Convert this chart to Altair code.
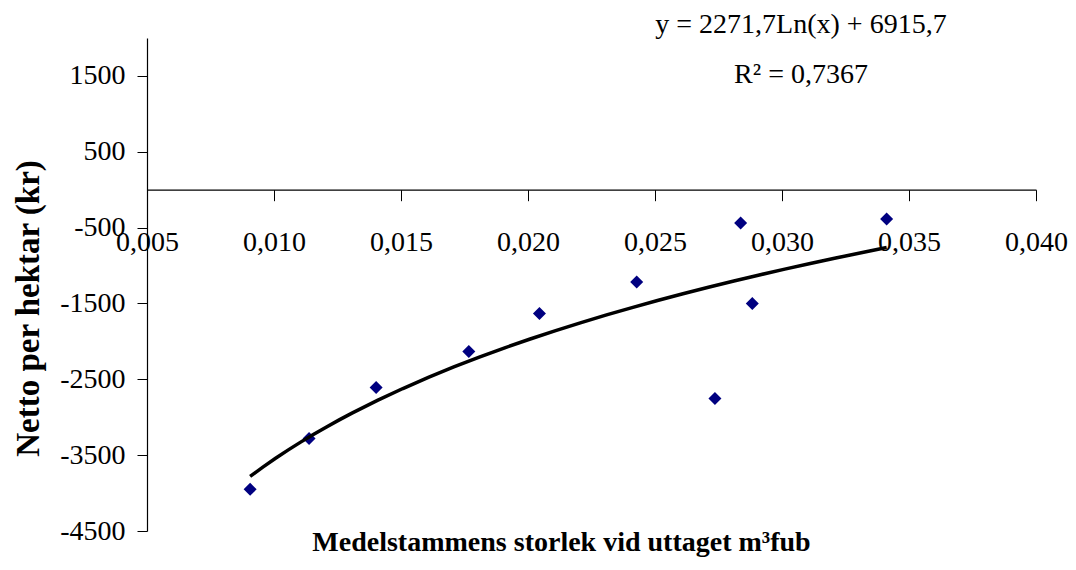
import altair as alt
import pandas as pd

# Data
stem_size = [0.00906, 0.01138, 0.01402, 0.01767, 0.02045, 0.02428, 0.02736, 0.02837, 0.02883, 0.03412]
net_per_ha = [-3950, -3281, -2609, -2135, -1634, -1218, -2754, -440, -1502, -387]

x_ticks = [0.005, 0.010, 0.015, 0.020, 0.025, 0.030, 0.035, 0.040]
y_ticks = [-4500, -3500, -2500, -1500, -500, 500, 1500]
x_domain = [0.005, 0.040]
y_domain = [-4500, 2000]

eq_lines = ["y = 2271,7Ln(x) + 6915,7", "R² = 0,7367"]
x_title = "Medelstammens storlek vid uttaget m³fub"
y_title = "Netto per hektar (kr)"

df = pd.DataFrame({"x": stem_size, "y": net_per_ha})

W, H = 889, 493
FONT = "Liberation Serif"
y0_from_top = H * (y_domain[1] - 0) / (y_domain[1] - y_domain[0])
x_axis_offset = -(H - y0_from_top)

x_enc = alt.X(
    "x:Q",
    scale=alt.Scale(domain=x_domain, nice=False, zero=False),
    axis=alt.Axis(
        values=x_ticks,
        labelExpr="replace(format(datum.value, '.3f'), '.', ',')",
        offset=x_axis_offset,
        grid=False,
        domainColor="black",
        domainWidth=1.2,
        tickColor="black",
        tickSize=11,
        tickWidth=1,
        labelFont=FONT,
        labelFontSize=28,
        labelColor="black",
        labelPadding=28,
        labelFlush=False,
        labelOverlap=False,
        title=x_title,
        titleFont=FONT,
        titleFontSize=28,
        titleFontWeight="bold",
        titleColor="black",
        titleX=414,
        titleY=H - y0_from_top + 19,
        titleBaseline="alphabetic",
        titleAlign="center",
    ),
)

y_enc = alt.Y(
    "y:Q",
    scale=alt.Scale(domain=y_domain, nice=False, zero=False),
    axis=alt.Axis(
        values=y_ticks,
        grid=False,
        domainColor="black",
        domainWidth=1.2,
        tickColor="black",
        tickSize=10,
        tickWidth=1,
        labelFont=FONT,
        labelFontSize=28,
        labelColor="black",
        labelPadding=12,
        labelOverlap=False,
        labelExpr="'' + datum.value",
        title=y_title,
        titleFont=FONT,
        titleFontSize=33,
        titleFontWeight="bold",
        titleColor="black",
        titleX=-119,
        titleY=270,
        titleBaseline="middle",
        titleAlign="center",
        titleAngle=270,
    ),
)

base = alt.Chart(df)

points = base.mark_point(
    shape="diamond", filled=True, size=169, color="#000080", opacity=1
).encode(x=x_enc, y=y_enc)

trend = base.transform_regression("x", "y", method="log").mark_line(
    color="black", strokeWidth=3.5
).encode(x="x:Q", y="y:Q")

eq_df = pd.DataFrame({"t": [eq_lines[0]]})
r2_df = pd.DataFrame({"t": [eq_lines[1]]})
eq1 = alt.Chart(eq_df).mark_text(
    font=FONT, fontSize=28, color="black", align="center", baseline="alphabetic"
).encode(text="t:N", x=alt.value(654), y=alt.value(-5))
eq2 = alt.Chart(r2_df).mark_text(
    font=FONT, fontSize=28, color="black", align="center", baseline="alphabetic"
).encode(text="t:N", x=alt.value(654), y=alt.value(45))

chart = (
    alt.layer(points, trend, eq1, eq2)
    .properties(
        width=W,
        height=H,
        autosize=alt.AutoSizeParams(type="none"),
        padding={"left": 147, "top": 38, "right": 1076 - 147 - W, "bottom": 570 - 38 - H},
        background="white",
    )
    .configure_view(stroke=None)
)

chart.save("out.html", embed_options={"renderer": "svg", "actions": False})
